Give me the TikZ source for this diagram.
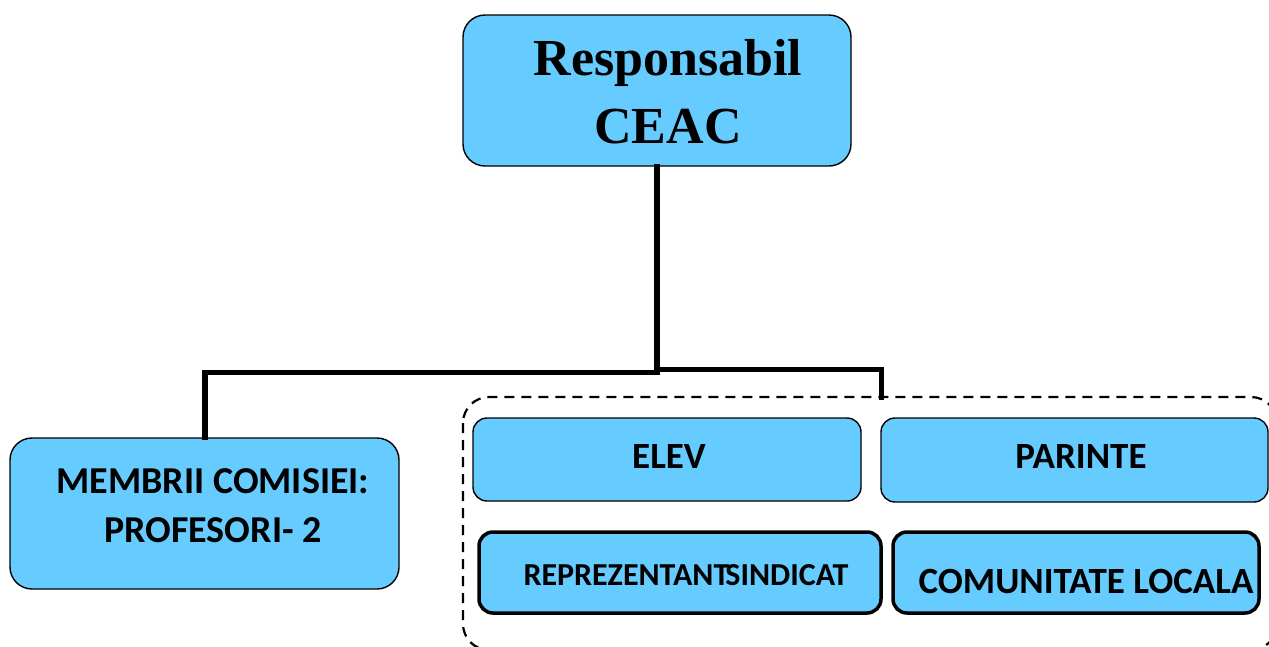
\documentclass[tikz,border=0pt]{standalone}
\usepackage{fontspec}
\setmainfont{Liberation Serif}
\newfontfamily\carl{Carlito}
\definecolor{boxblue}{HTML}{66CCFF}
\begin{document}
\begin{tikzpicture}[x=1pt,y=-1pt,
  bluebox/.style={draw=black, fill=boxblue, rounded corners=#1, line width=1.4pt, inner sep=0pt},
  bluebox/.default=22pt,
  thickbox/.style={bluebox=14pt, line width=3.5pt},
  conn/.style={line width=5.5pt, line cap=rect},
  sanslabel/.style={font=\carl\bfseries\fontsize{37}{52}\selectfont, inner sep=0pt, align=center},
]
\useasboundingbox (0,0) rectangle (1269,646);
\begin{scope}
\clip (0,0) rectangle (1269,646);
\draw[line width=2.2pt, dash pattern=on 10pt off 7pt, rounded corners=26pt] (463,397) rectangle (1277,650);
\end{scope}

% connectors
\node[bluebox=22pt, minimum width=388pt, minimum height=151pt] (top) at (657,90.5) {};
\node[bluebox=22pt, minimum width=389pt, minimum height=151pt] (left) at (204.5,513.5) {};
\coordinate (j) at (657,371);
\coordinate (grp) at (881.5,397);
\draw[conn] (top.south) -- (j);
\draw[conn] (j) -- (657,372.5) -- (205,372.5) -- (left.north -| 205,0);
\draw[conn] (j) -- (657,369.5) -- (881.5,369.5) -- (grp);

\node[bluebox=14pt, minimum width=388pt, minimum height=83pt] (elev) at (667,459.5) {};
\node[bluebox=14pt, minimum width=387pt, minimum height=84pt] (par) at (1074.5,460) {};
\node[thickbox, minimum width=402pt, minimum height=81pt] (rep) at (680,572.5) {};
\node[thickbox, minimum width=366pt, minimum height=81pt] (com) at (1076,572.5) {};

\node[font=\bfseries\fontsize{52}{68}\selectfont, align=center, inner sep=0pt] (toptext) at (668,92) {Responsabil\\CEAC};
\node[sanslabel, font=\carl\bfseries\fontsize{38}{52}\selectfont] (lefttext) at (213,506) {MEMBRII COMISIEI:\\[-3pt]PROFESORI- 2};
\node[sanslabel, anchor=base] (elevtext) at (669,468) {ELEV};
\node[sanslabel, anchor=base] (partext) at (1081,468) {PARINTE};
\node[sanslabel, font=\carl\bfseries\fontsize{32}{40}\selectfont, anchor=base] (reptext) at (686,585) {REPREZENTANT\hspace{-0.35em} SINDICAT};
\node[sanslabel, anchor=base] (comtext) at (1086,593) {COMUNITATE LOCALA};
\end{tikzpicture}
\end{document}
